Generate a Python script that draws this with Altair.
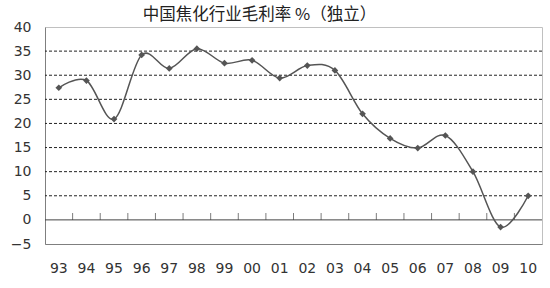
import altair as alt
import pandas as pd

years = ["93", "94", "95", "96", "97", "98", "99", "00", "01", "02",
         "03", "04", "05", "06", "07", "08", "09", "10"]
margin = [27.4, 28.9, 20.9, 34.2, 31.4, 35.5, 32.5, 33.1, 29.4, 32.0,
          31.0, 22.0, 16.9, 14.9, 17.5, 10.0, -1.5, 5.0]
grid_vals = [5, 10, 15, 20, 25, 30, 35]
y_ticks = [-5, 0, 5, 10, 15, 20, 25, 30, 35, 40]

df = pd.DataFrame({"year": years, "margin": margin})
gdf = pd.DataFrame({"g": grid_vals})
zdf = pd.DataFrame({"z": [0]})
tdf = pd.DataFrame({"year": years[1:], "z": [0] * (len(years) - 1)})

FONT = "DejaVu Sans"
LAB = "#333333"

xscale = alt.Scale(type="band", domain=years, paddingInner=0, paddingOuter=0)
yscale = alt.Scale(domain=[-5, 40], nice=False, zero=False)

x_axis = alt.Axis(title=None, labelAngle=0, ticks=False, domain=True,
                  domainColor="#7f7f7f", labelPadding=17, labelFont=FONT,
                  labelFontSize=14, labelColor=LAB, grid=False,
                  labelOverlap=False)
y_axis = alt.Axis(title=None, values=y_ticks, ticks=False, domain=True,
                  domainColor="#7f7f7f", labelPadding=14, labelFont=FONT,
                  labelFontSize=14, labelColor=LAB, grid=False,
                  labelOverlap=False, labelFlush=False)

grid = alt.Chart(gdf).mark_rule(color="#222222", strokeWidth=1,
                                strokeDash=[3, 2]).encode(
    y=alt.Y("g:Q", scale=yscale, axis=y_axis)
)

zero = alt.Chart(zdf).mark_rule(color="#444444", strokeWidth=1).encode(
    y=alt.Y("z:Q", scale=yscale, axis=y_axis)
)

ticks = alt.Chart(tdf).mark_tick(orient="vertical", size=7, thickness=1,
                                 color="#444444", yOffset=-3.5).encode(
    x=alt.X("year:O", scale=xscale, bandPosition=0, axis=x_axis),
    y=alt.Y("z:Q", scale=yscale, axis=y_axis)
)

line = alt.Chart(df).mark_line(interpolate="cardinal", color="#555555",
                               strokeWidth=1.5).encode(
    x=alt.X("year:O", scale=xscale, bandPosition=0.5, axis=x_axis),
    y=alt.Y("margin:Q", scale=yscale, axis=y_axis)
)

pts = alt.Chart(df).mark_point(shape="diamond", filled=True, size=45,
                               color="#555555", opacity=1).encode(
    x=alt.X("year:O", scale=xscale, bandPosition=0.5, axis=x_axis),
    y=alt.Y("margin:Q", scale=yscale, axis=y_axis)
)

chart = alt.layer(grid, zero, ticks, line, pts).properties(
    width=497, height=217,
    autosize="none",
    padding={"left": 45, "top": 27, "right": 8, "bottom": 44},
    title=alt.TitleParams("中国焦化行业毛利率 %（独立）", font="Noto Sans CJK SC",
                          fontSize=16.5, fontWeight="normal", color="#222222",
                          anchor="middle", dx=-34, offset=-3),
).configure_view(stroke="#c0c0c0").configure_axis(labelOverlap=False)

chart.save("out.html", embed_options={"renderer": "svg", "actions": False})
